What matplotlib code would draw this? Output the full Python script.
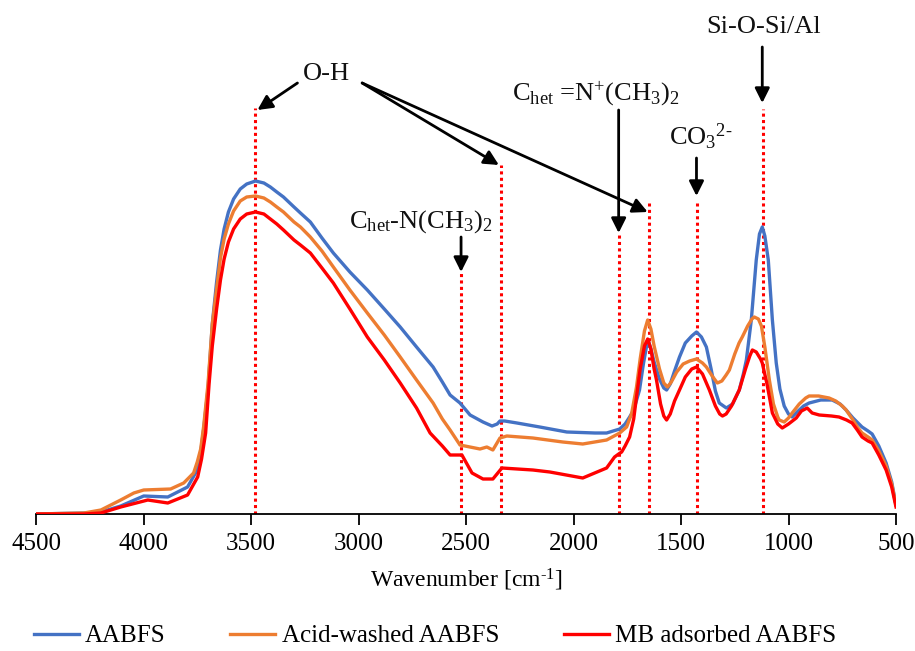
import matplotlib
matplotlib.use('Agg')
import matplotlib.pyplot as plt

plt.rcParams['font.family'] = ['Liberation Serif', 'DejaVu Serif']
plt.rcParams['mathtext.fontset'] = 'custom'
plt.rcParams['mathtext.rm'] = 'Liberation Serif'
plt.rcParams['mathtext.it'] = 'Liberation Serif:italic'

# Wavenumber [cm-1] and absorbance (arbitrary units)
wn_aabfs = [4500, 4277, 4198, 4106, 3999, 3887, 3795, 3750, 3735, 3720, 3700, 3680,
            3660, 3642, 3625, 3605, 3581, 3550, 3520, 3479, 3440, 3410, 3380, 3349,
            3300, 3270, 3224, 3170, 3117, 3040, 2959, 2880, 2806, 2730, 2653, 2610,
            2574, 2528, 2481, 2421, 2379, 2355, 2342, 2320, 2263, 2157, 2031, 1900,
            1846, 1785, 1760, 1739, 1720, 1693, 1675, 1660, 1650, 1640, 1625, 1600,
            1580, 1567, 1550, 1530, 1507, 1480, 1450, 1428, 1405, 1382, 1360, 1340,
            1322, 1289, 1260, 1229, 1210, 1196, 1173, 1150, 1135, 1122, 1110, 1094,
            1075, 1057, 1040, 1020, 1000, 983, 960, 930, 904, 850, 797, 760,
            732, 700, 658, 630, 611, 580, 546, 520, 500]
abs_aabfs = [0, 1, 2, 8, 18, 17, 27, 44, 60, 85, 125, 190,
             232, 264, 285, 302, 315, 325, 330, 333, 331, 327, 322, 317,
             307, 301, 292, 276, 261, 242, 224, 205, 187, 167, 147, 132,
             119, 111, 99, 92, 88, 90, 93, 93, 91, 87, 82, 81,
             81, 85, 90, 97, 104, 124, 150, 168, 172, 165, 152, 135,
             126, 124, 130, 143, 157, 171, 178, 182, 177, 167, 145, 123,
             111, 106, 110, 124, 140, 154, 194, 254, 280, 287, 278, 254,
             194, 151, 125, 108, 100, 97, 102, 108, 111, 114, 114, 110,
             104, 96, 87, 83, 80, 68, 51, 32, 9]

wn_acid = [4500, 4277, 4198, 4106, 4045, 3999, 3874, 3813, 3767, 3750, 3734, 3720,
           3700, 3680, 3660, 3642, 3625, 3605, 3581, 3550, 3520, 3479, 3440, 3410,
           3380, 3349, 3300, 3270, 3224, 3170, 3117, 3040, 2959, 2880, 2806, 2730,
           2653, 2610, 2574, 2528, 2435, 2403, 2375, 2342, 2310, 2189, 2050, 1957,
           1846, 1785, 1753, 1730, 1707, 1690, 1670, 1655, 1640, 1625, 1600, 1580,
           1563, 1545, 1520, 1490, 1460, 1428, 1400, 1382, 1355, 1331, 1310, 1290,
           1275, 1250, 1230, 1215, 1190, 1170, 1159, 1140, 1126, 1110, 1089, 1070,
           1050, 1043, 1020, 1000, 983, 950, 920, 904, 860, 811, 780, 750,
           732, 700, 680, 658, 630, 611, 580, 546, 520, 500]
abs_acid = [0, 1, 4, 14, 21, 24, 25, 31, 41, 52, 65, 88,
            130, 190, 225, 256, 275, 290, 303, 313, 317, 318, 316, 312,
            307, 302, 292, 287, 277, 263, 247, 224, 201, 179, 157, 134,
            111, 95, 84, 69, 65, 67, 64, 76, 78, 76, 72, 70,
            74, 81, 87, 100, 127, 155, 183, 194, 185, 168, 145, 131,
            127, 132, 142, 150, 153, 155, 151, 147, 138, 131, 133, 139,
            144, 160, 171, 177, 188, 195, 197, 195, 188, 167, 134, 110,
            97, 94, 92, 96, 101, 110, 116, 118, 118, 116, 113, 108,
            104, 94, 87, 81, 77, 74, 63, 48, 30, 9]

wn_mb = [4500, 4277, 4198, 4106, 3980, 3887, 3795, 3748, 3730, 3711, 3695, 3680,
         3660, 3642, 3625, 3605, 3581, 3550, 3520, 3479, 3440, 3410, 3380, 3349,
         3300, 3270, 3224, 3170, 3117, 3040, 2959, 2880, 2806, 2730, 2667, 2610,
         2574, 2519, 2472, 2421, 2375, 2333, 2189, 2110, 1957, 1846, 1809, 1790,
         1776, 1760, 1739, 1720, 1707, 1690, 1670, 1655, 1640, 1625, 1614, 1595,
         1580, 1567, 1550, 1530, 1507, 1480, 1450, 1428, 1400, 1368, 1340, 1320,
         1307, 1290, 1265, 1229, 1200, 1180, 1168, 1150, 1130, 1122, 1100, 1075,
         1050, 1029, 1000, 964, 940, 913, 890, 857, 800, 765, 730, 704,
         680, 658, 630, 611, 580, 546, 520, 500]
abs_mb = [0, 0, 1, 7, 14, 11, 19, 37, 55, 81, 130, 168,
          205, 234, 255, 272, 285, 295, 300, 302, 300, 295, 290, 284,
          274, 269, 261, 246, 231, 205, 177, 154, 131, 106, 81, 68,
          59, 59, 41, 35, 35, 46, 44, 42, 36, 46, 57, 60,
          62, 68, 77, 95, 117, 145, 168, 175, 165, 145, 134, 110,
          98, 94, 100, 113, 124, 137, 145, 147, 140, 124, 108, 100,
          98, 100, 108, 124, 145, 158, 164, 162, 155, 151, 130, 101,
          90, 86, 90, 96, 103, 106, 101, 99, 98, 97, 94, 91,
          84, 77, 73, 71, 59, 44, 27, 7]

series_names = ['AABFS', 'Acid-washed AABFS', 'MB adsorbed AABFS']
series_colors = ['#4472C4', '#ED7D31', '#FF0000']

# marked bands: wavenumber and top of the dotted guide
band_wn = [3480, 2525, 2335, 1790, 1650, 1425, 1120]
band_top = [406, 242, 349, 281, 311, 311, 405]

fig = plt.figure(figsize=(9.15, 6.51), dpi=100)
ax = fig.add_axes([36 / 915, 137 / 651, 860 / 915, 505 / 651])

for wn, ab, name, col in zip([wn_aabfs, wn_acid, wn_mb], [abs_aabfs, abs_acid, abs_mb],
                             series_names, series_colors):
    ax.plot(wn, ab, color=col, lw=2.4, label=name, solid_joinstyle='round', zorder=3)

for wn, top in zip(band_wn, band_top):
    ax.plot([wn, wn], [0, top], color='#FF0000', lw=2.2, ls=(0, (1, 1.1)), zorder=2)

ax.set_xlim(4500, 500)
ax.set_ylim(0, 505)
ax.set_xticks(range(4500, 499, -500))
ax.set_yticks([])
for s in ['left', 'right', 'top']:
    ax.spines[s].set_visible(False)
ax.spines['bottom'].set_linewidth(1.3)
ax.tick_params(axis='x', direction='out', length=8, width=1.3, labelsize=18, pad=6)
ax.set_xlabel('Wavenumber [cm$^{\u20101}$]', fontsize=17, labelpad=8)

arrow = dict(arrowstyle='-|>', color='black', lw=2, mutation_scale=22, shrinkA=0, shrinkB=0)
txt = dict(fontsize=19, ha='center', va='baseline', color='#111111')

ax.text(3150, 434, 'O-H', **txt)
ax.annotate('', xy=(3470, 404), xytext=(3284, 431), arrowprops=arrow)
ax.annotate('', xy=(2347, 349), xytext=(2983, 431), arrowprops=arrow)
ax.annotate('', xy=(1655, 302), xytext=(2983, 431), arrowprops=arrow)

ax.text(2713, 286, r'C$_{\mathrm{het}}$-N(CH$_3$)$_2$', **txt)
ax.annotate('', xy=(2523, 242), xytext=(2523, 277), arrowprops=arrow)

ax.text(1897, 414, r'C$_{\mathrm{het}}$ =N$^{+}$(CH$_3$)$_2$', **txt)
ax.annotate('', xy=(1790, 281), xytext=(1790, 404), arrowprops=arrow)

ax.text(1410, 369, 'CO$_3$$^{2\u2010}$', **txt)
ax.annotate('', xy=(1428, 318), xytext=(1428, 356), arrowprops=arrow)

ax.text(1117, 481, 'Si-O-Si/Al', **txt)
ax.annotate('', xy=(1122, 411), xytext=(1122, 467), arrowprops=arrow)

fig.legend(loc='center', bbox_to_anchor=(435 / 915, 15 / 651), ncol=3, frameon=False,
           fontsize=18, handlelength=1.8, handletextpad=0.25, columnspacing=2.6)

fig.savefig('out.png', dpi=100)
